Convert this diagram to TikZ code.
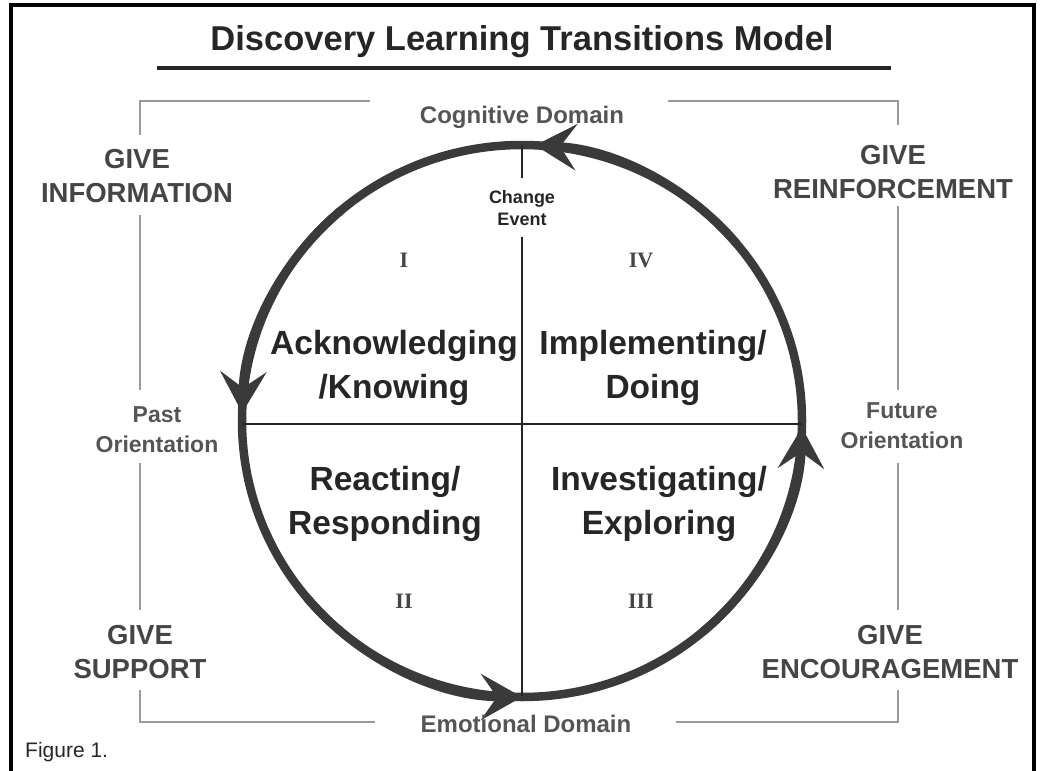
\documentclass[tikz,border=0pt]{standalone}
\usepackage{fontspec}
\setmainfont{Liberation Sans}
\newfontfamily\numfont{Liberation Serif}
\usetikzlibrary{arrows.meta}
\definecolor{ink}{HTML}{262626}
\definecolor{mid}{HTML}{454545}
\definecolor{soft}{HTML}{555555}
\definecolor{ring}{HTML}{3A3A3A}
\definecolor{bracket}{HTML}{9A9A9A}
\begin{document}
\begin{tikzpicture}[x=1pt,y=-1pt,
  frameline/.style={draw=black, line width=4.8, line join=miter},
  bracketline/.style={draw=bracket, line width=1.8},
  divider/.style={draw=ink, line width=1.3},
  ringline/.style={draw=ring, line width=8.5},
  ringarrow/.style={ringline, -{Stealth[length=41pt,width=46pt,inset=16pt]}},
  lbl/.style={anchor=base, inner sep=0pt, align=center},
  titlelbl/.style={lbl, text=ink, font=\bfseries\fontsize{34.5}{40}\selectfont},
  givelbl/.style={lbl, text=mid, font=\bfseries\fontsize{27.5}{34}\selectfont},
  domainlbl/.style={lbl, text=soft, font=\bfseries\fontsize{24}{30}\selectfont},
  orientlbl/.style={lbl, text=soft, font=\bfseries\fontsize{23}{30}\selectfont},
  phaselbl/.style={lbl, text=ink, font=\bfseries\fontsize{33.5}{44}\selectfont},
  numlbl/.style={lbl, text=mid, font=\numfont\bfseries\fontsize{22}{26}\selectfont},
  eventlbl/.style={lbl, text=ink, inner ysep=12pt, font=\bfseries\fontsize{18}{22}\selectfont},
]
\useasboundingbox (0,0) rectangle (1042,771);
\fill[white] (0,0) rectangle (1042,771);

% outer frame, open at the bottom
\coordinate (fBL) at (11,771);
\coordinate (fTL) at (11,5);
\coordinate (fTR) at (1034,5);
\coordinate (fBR) at (1034,771);
\draw[frameline] (fBL) -- (fTL) -- (fTR) -- (fBR);

% title with rule
\node[titlelbl] (title) at (522,50) {Discovery Learning Transitions Model};
\coordinate (ruleL) at (157,68);
\coordinate (ruleR) at (891,68);
\draw[draw=ink, line width=3.2] (ruleL) -- (ruleR);

% grey corner brackets
\coordinate (bTL) at (140,101);
\coordinate (bTLend) at (370,101);
\coordinate (bTR) at (898,101);
\coordinate (bTRend) at (668,101);
\coordinate (bBL) at (140,722);
\coordinate (bBLend) at (375,722);
\coordinate (bBR) at (898,722);
\coordinate (bBRend) at (676,722);
\draw[bracketline] (bTLend) -- (bTL) -- (140,135);
\draw[bracketline] (140,215) -- (140,390);
\draw[bracketline] (140,463) -- (140,610);
\draw[bracketline] (140,690) -- (bBL) -- (bBLend);
\draw[bracketline] (bTRend) -- (bTR) -- (898,125);
\draw[bracketline] (898,206) -- (898,390);
\draw[bracketline] (898,463) -- (898,610);
\draw[bracketline] (898,690) -- (bBR) -- (bBRend);

% the cycle
\coordinate (O) at (522,421);
\draw[ringline] (O) ellipse [x radius=280, y radius=276];
\draw[ringarrow] (O) ++(320:280 and 276) arc[start angle=320, end angle=272.7, x radius=280, y radius=276];
\draw[ringarrow] (O) ++(230:280 and 276) arc[start angle=230, end angle=181.7, x radius=280, y radius=276];
\draw[ringarrow] (O) ++(140:280 and 276) arc[start angle=140, end angle=90, x radius=280, y radius=276];
\draw[ringarrow] (O) ++(50:280 and 276) arc[start angle=50, end angle=1.3, x radius=280, y radius=276];

% quadrant dividers
\coordinate (ringL) at (242,424);
\coordinate (ringR) at (802,424);
\coordinate (ringT) at (522,145);
\coordinate (ringB) at (522,696);
\node[eventlbl] (event) at (522,225) {Change\\Event};
\draw[divider] (ringL) -- (ringR);
\draw[divider] (ringT) -- (event.north);
\draw[divider] (event.south) -- (ringB);

% domain and orientation labels
\node[domainlbl] (cog) at (522,123) {Cognitive Domain};
\node[domainlbl] (emo) at (526,732) {Emotional Domain};
\node[orientlbl] (past) at (157,452) {Past\\Orientation};
\node[orientlbl] (future) at (902,448) {Future\\Orientation};

% corner actions
\node[givelbl] (ginfo) at (137,202) {GIVE\\INFORMATION};
\node[givelbl] (greinf) at (893,198) {GIVE\\REINFORCEMENT};
\node[givelbl] (gsupp) at (140,678) {GIVE\\SUPPORT};
\node[givelbl] (genc) at (890,678) {GIVE\\ENCOURAGEMENT};

% quadrant numerals
\node[numlbl] (q1) at (404,267) {I};
\node[numlbl] (q4) at (641,267) {IV};
\node[numlbl] (q2) at (404,608) {II};
\node[numlbl] (q3) at (641,608) {III};

% phase names
\node[phaselbl] (ack) at (394,398) {Acknowledging\\/Knowing};
\node[phaselbl] (impl) at (653,398) {Implementing/\\Doing};
\node[phaselbl] (react) at (385,534) {Reacting/\\Responding};
\node[phaselbl] (inv) at (659,534) {Investigating/\\Exploring};

% caption
\node[anchor=base west, inner sep=0pt, text=ink, font=\fontsize{21}{25}\selectfont] (fig) at (25,757) {Figure 1.};
\end{tikzpicture}
\end{document}
